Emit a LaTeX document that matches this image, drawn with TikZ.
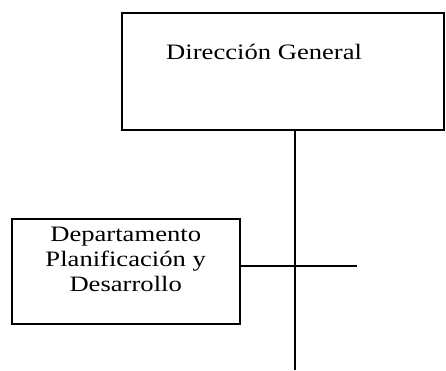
\documentclass[tikz,border=0pt]{standalone}
\usepackage{fontspec}
\newfontfamily\orgfont[FakeStretch=1.21]{Liberation Serif}
\begin{document}
\begin{tikzpicture}[x=1pt, y=-1pt,
  orgbox/.style={draw=black, line width=2pt, rectangle, inner sep=0pt, outer sep=0pt, anchor=north west},
  orgtext/.style={inner sep=0pt, font=\orgfont\fontsize{22}{25}\selectfont},
  link/.style={draw=black, line width=2pt}]
\useasboundingbox (0,0) rectangle (446,370);
% top box: Dirección General
\node[orgbox, minimum width=322pt, minimum height=117.3pt] (dg) at (122,12.7) {};
\node[orgtext, anchor=base west] (dgtext) at (166,59.5) {Dirección General};
% department box
\node[orgbox, minimum width=228pt, minimum height=105pt] (dp) at (11.7,219) {};
\node[orgtext, align=center, anchor=center] (dptext) at (125.7,259.5) {Departamento\\Planificación y\\Desarrollo};
% connectors
\coordinate (vend) at (294.7,370);
\coordinate (hend) at (357,266);
\draw[link] (dg.south -| vend) -- (vend);
\draw[link] (dp.east |- hend) -- (hend);
\end{tikzpicture}
\end{document}
